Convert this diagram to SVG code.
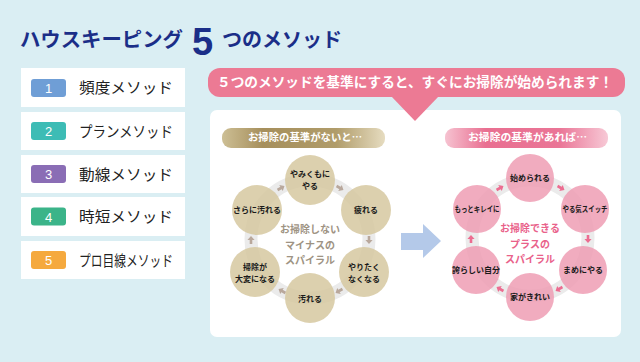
<svg xmlns="http://www.w3.org/2000/svg" width="640" height="362" viewBox="0 0 640 362">
<defs>
<style>
.jp{font-family:"Noto Sans CJK JP","Noto Sans",sans-serif}
.ttl{fill:#1b2e88;font-weight:bold}
.item{fill:#222;font-size:15px}
.num{font-family:"Liberation Sans",Arial,sans-serif;font-size:13px;fill:#fff;text-anchor:middle}
.box{fill:#fff}
.nodeL{fill:#d6c8a0;fill-opacity:0.85}
.nodeR{fill:#ef9db4;fill-opacity:0.85}
.nt{font-size:8px;font-weight:bold;fill:#1a1a1a;text-anchor:middle}
.ring{fill:none;stroke:#ebebeb;stroke-width:13}
.arL{fill:#b9a89c}
.arR{fill:#ec6d91}
.ct{font-size:10px;font-weight:bold;text-anchor:middle}
</style>
<linearGradient id="gGold" x1="0" y1="0" x2="1" y2="0">
<stop offset="0" stop-color="#cdbf95"/>
<stop offset="0.25" stop-color="#a68f5c"/>
<stop offset="0.7" stop-color="#b09c6a"/>
<stop offset="1" stop-color="#e6dcc0"/>
</linearGradient>
<linearGradient id="gPink" x1="0" y1="0" x2="1" y2="0">
<stop offset="0" stop-color="#f6c3d1"/>
<stop offset="0.25" stop-color="#e96f91"/>
<stop offset="0.7" stop-color="#ea7596"/>
<stop offset="1" stop-color="#f7c9d6"/>
</linearGradient>
<path id="sa" d="M-1.3,-4 H1.3 V0 H3.6 L0,4 L-3.6,0 H-1.3 Z"/>
</defs>

<rect x="0" y="0" width="640" height="362" fill="#daeef3"/>

<g id="title" class="jp ttl">
<text x="20" y="47" font-size="20.5" textLength="163" lengthAdjust="spacingAndGlyphs">ハウスキーピング</text>
<text x="192" y="55" font-size="38" font-family="Liberation Sans, Arial, sans-serif">5</text>
<text x="222" y="47" font-size="20" textLength="120" lengthAdjust="spacingAndGlyphs">つのメソッド</text>
</g>

<g id="m1">
<rect class="box" x="21" y="68" width="164" height="39"/>
<rect x="31" y="79" width="35" height="18" rx="3" fill="#6f9ed6"/>
<text class="num" x="48.5" y="93">1</text>
<text class="jp item" x="79" y="93" textLength="94" lengthAdjust="spacingAndGlyphs">頻度メソッド</text>
</g>
<g id="m2">
<rect class="box" x="21" y="112" width="164" height="38"/>
<rect x="31" y="122" width="35" height="18" rx="3" fill="#3dbcb5"/>
<text class="num" x="48.5" y="136">2</text>
<text class="jp item" x="79" y="137" textLength="94" lengthAdjust="spacingAndGlyphs">プランメソッド</text>
</g>
<g id="m3">
<rect class="box" x="21" y="155" width="164" height="38"/>
<rect x="31" y="165" width="35" height="18" rx="3" fill="#8a6db5"/>
<text class="num" x="48.5" y="179">3</text>
<text class="jp item" x="79" y="180" textLength="94" lengthAdjust="spacingAndGlyphs">動線メソッド</text>
</g>
<g id="m4">
<rect class="box" x="21" y="197" width="164" height="39"/>
<rect x="31" y="207.5" width="35" height="18" rx="3" fill="#3bb489"/>
<text class="num" x="48.5" y="221.5">4</text>
<text class="jp item" x="79" y="222" textLength="94" lengthAdjust="spacingAndGlyphs">時短メソッド</text>
</g>
<g id="m5">
<rect class="box" x="21" y="241" width="164" height="38"/>
<rect x="31" y="251" width="35" height="18" rx="3" fill="#f5a93e"/>
<text class="num" x="48.5" y="265">5</text>
<text class="jp item" x="79" y="266" textLength="94" lengthAdjust="spacingAndGlyphs">プロ目線メソッド</text>
</g>

<g id="panel">
<rect x="210" y="110" width="411" height="227" rx="7" fill="#fff"/>
</g>

<g id="banner">
<rect x="208" y="68" width="417" height="29" rx="12" fill="#ec7a94"/>
<path d="M391,96 L439,96 L415,121 Z" fill="#ec7a94"/>
<text class="jp" x="217" y="87" font-size="13.5" font-weight="bold" fill="#fff" textLength="396" lengthAdjust="spacingAndGlyphs">５つのメソッドを基準にすると、すぐにお掃除が始められます！</text>
</g>

<g id="subL">
<rect x="222" y="128" width="163" height="20" rx="9" fill="url(#gGold)"/>
<text class="jp" x="248" y="141" font-size="10.5" font-weight="bold" fill="#fff" textLength="114" lengthAdjust="spacingAndGlyphs">お掃除の基準がないと…</text>
</g>
<g id="subR">
<rect x="445" y="128" width="163" height="20" rx="9" fill="url(#gPink)"/>
<text class="jp" x="468" y="141" font-size="10.5" font-weight="bold" fill="#fff" textLength="119" lengthAdjust="spacingAndGlyphs">お掃除の基準があれば…</text>
</g>

<g id="connectors">
<circle class="ring" cx="310" cy="239" r="59"/>
<circle class="ring" cx="530" cy="238" r="58"/>
<g class="arL">
<use href="#sa" transform="translate(340,188) rotate(-60)"/>
<use href="#sa" transform="translate(369,240) rotate(0)"/>
<use href="#sa" transform="translate(339,291) rotate(60)"/>
<use href="#sa" transform="translate(282,291) rotate(120)"/>
<use href="#sa" transform="translate(251,240) rotate(180)"/>
<use href="#sa" transform="translate(281,188) rotate(240)"/>
</g>
<g class="arR">
<use href="#sa" transform="translate(561,188) rotate(-60)"/>
<use href="#sa" transform="translate(588,239) rotate(0)"/>
<use href="#sa" transform="translate(559,289) rotate(60)"/>
<use href="#sa" transform="translate(500,289) rotate(120)"/>
<use href="#sa" transform="translate(471,239) rotate(180)"/>
<use href="#sa" transform="translate(500,188) rotate(240)"/>
</g>
<path id="bigArrow" d="M401,233 H423 V224 L441,241 L423,258 V250 H401 Z" fill="#b4c9e9"/>
</g>

<g id="centerL" class="jp ct" fill="#9e9383">
<text x="310" y="233">お掃除しない</text>
<text x="310" y="249">マイナスの</text>
<text x="310" y="264">スパイラル</text>
</g>
<g id="centerR" class="jp ct" fill="#e9618a">
<text x="530" y="232">お掃除できる</text>
<text x="530" y="248">プラスの</text>
<text x="530" y="263">スパイラル</text>
</g>

<g id="L1"><circle class="nodeL" cx="310" cy="180" r="25"/><text class="jp nt" x="310" y="177">やみくもに</text><text class="jp nt" x="310" y="189">やる</text></g>
<g id="L2"><circle class="nodeL" cx="366" cy="210" r="25"/><text class="jp nt" x="366" y="213">疲れる</text></g>
<g id="L3"><circle class="nodeL" cx="364" cy="272" r="25"/><text class="jp nt" x="364" y="270">やりたく</text><text class="jp nt" x="364" y="282">なくなる</text></g>
<g id="L4"><circle class="nodeL" cx="310" cy="298" r="25"/><text class="jp nt" x="310" y="302">汚れる</text></g>
<g id="L5"><circle class="nodeL" cx="255" cy="272" r="25"/><text class="jp nt" x="255" y="270">掃除が</text><text class="jp nt" x="255" y="282">大変になる</text></g>
<g id="L6"><circle class="nodeL" cx="257" cy="210" r="25"/><text class="jp nt" x="257" y="213">さらに汚れる</text></g>

<g id="R1"><circle class="nodeR" cx="530" cy="178" r="24"/><text class="jp nt" x="530" y="181">始められる</text></g>
<g id="R2"><circle class="nodeR" cx="585" cy="209" r="24"/><text class="jp nt" x="585" y="212" textLength="45" lengthAdjust="spacingAndGlyphs">やる気スイッチ</text></g>
<g id="R3"><circle class="nodeR" cx="583" cy="270" r="24"/><text class="jp nt" x="583" y="273">まめにやる</text></g>
<g id="R4"><circle class="nodeR" cx="530" cy="297" r="24"/><text class="jp nt" x="530" y="300">家がきれい</text></g>
<g id="R5"><circle class="nodeR" cx="476" cy="270" r="24"/><text class="jp nt" x="476" y="273">誇らしい自分</text></g>
<g id="R6"><circle class="nodeR" cx="477" cy="209" r="24"/><text class="jp nt" x="477" y="212" textLength="45" lengthAdjust="spacingAndGlyphs">もっとキレイに</text></g>
</svg>
